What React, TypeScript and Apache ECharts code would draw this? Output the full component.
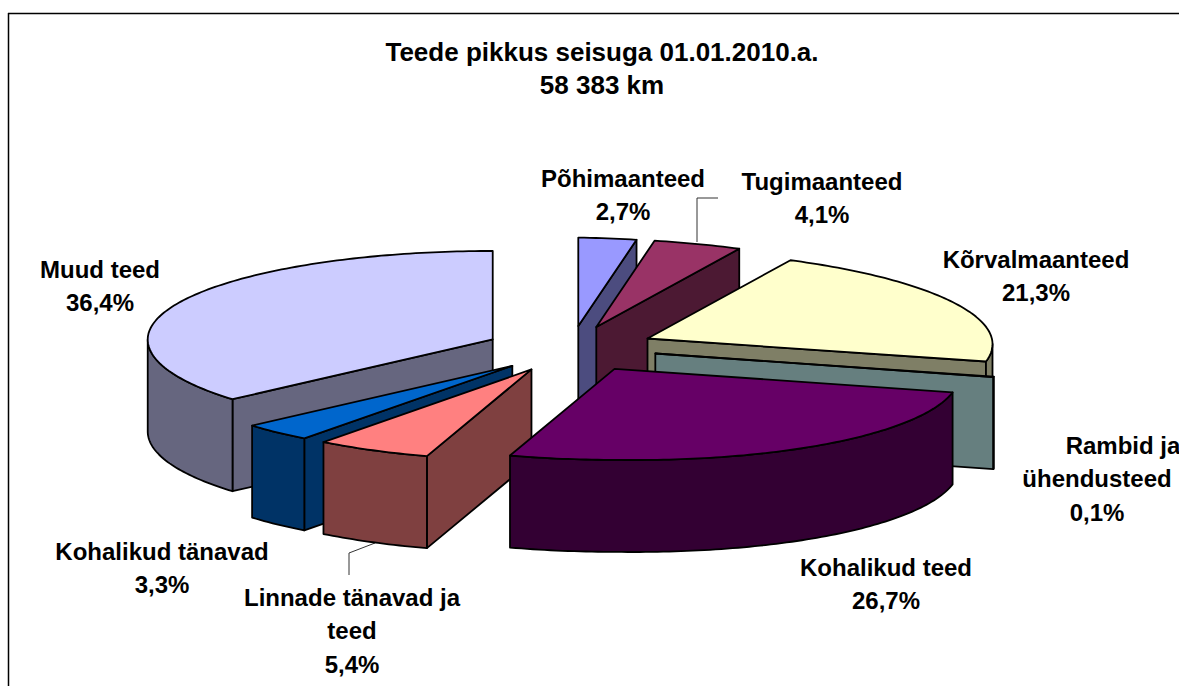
import React, { useEffect, useRef } from "react";
import * as echarts from "echarts";

const titleLines = ["Teede pikkus seisuga 01.01.2010.a.", "58 383 km"];
const sliceNames = [
  "Põhimaanteed",
  "Tugimaanteed",
  "Kõrvalmaanteed",
  "Rambid ja\nühendusteed",
  "Kohalikud teed",
  "Linnade tänavad ja\nteed",
  "Kohalikud tänavad",
  "Muud teed",
];
const sliceValues = [2.7, 4.1, 21.3, 0.1, 26.7, 5.4, 3.3, 36.4];
const topColors = ["#9999FF", "#993366", "#FFFFCC", "#CCFFFF", "#660066", "#FF8080", "#0066CC", "#CCCCFF"];
const sideColors = ["#4C4C7F", "#4C1933", "#7F7F66", "#667F7F", "#330033", "#7F4040", "#003366", "#66667F"];
const paintOrder = [0, 1, 2, 3, 7, 6, 5, 4];
const labelAnchors: [number, number][] = [
  [623, 178], [822, 181], [1036, 259], [1097, 445], [886, 567], [352, 597], [162, 551], [100, 269],
];
// per-line horizontal nudges, keyed "slice:line"
const lineNudges: Record<string, number> = { "3:0": 26 };

const FONT = '"Liberation Sans", Arial, sans-serif';
const FONT_SIZE = 24;
const TITLE_SIZE = 26;
const LINE_H = 33.5;
const CX = 571, CY = 349, RX = 345, RY_BACK = 88.5, RY_FRONT = 91, EX = 86, EY = 23, DEPTH = 92, TILT = 0.016;
const TOTAL = sliceValues.reduce((a, b) => a + b, 0);

function renderSlice(params: any) {
  const i = params.dataIndex;
  const before = sliceValues.slice(0, i).reduce((a, b) => a + b, 0);
  const a0 = (before / TOTAL) * 2 * Math.PI;
  const a1 = ((before + sliceValues[i]) / TOTAL) * 2 * Math.PI;
  const mid = (a0 + a1) / 2;
  const ax = CX + EX * Math.sin(mid);
  const ay = CY - EY * Math.cos(mid);
  const rim = (a: number): [number, number] => {
    const c = Math.cos(a);
    const dx = RX * Math.sin(a);
    return [ax + dx, ay - (c > 0 ? RY_BACK : RY_FRONT) * c + TILT * Math.max(0, dx)];
  };
  const arc = (from: number, to: number) => {
    const n = Math.max(2, Math.ceil(((to - from) * 180) / Math.PI));
    const pts: [number, number][] = [];
    for (let k = 0; k <= n; k++) pts.push(rim(from + ((to - from) * k) / n));
    return pts;
  };
  const base = paintOrder.indexOf(i) * 10;
  const line = { stroke: "#000", lineWidth: 1.8, lineJoin: "round" };
  const children: any[] = [];
  const radial = (a: number, z: number) => {
    const r = rim(a);
    children.push({
      type: "polygon",
      z2: base + z,
      shape: { points: [[ax, ay], r, [r[0], r[1] + DEPTH], [ax, ay + DEPTH]] },
      style: { fill: sideColors[i], ...line },
    });
  };
  // radial faces that turn towards the viewer
  if (Math.sin(a0) < -1e-6) radial(a0, 1);
  if (Math.sin(a1) > 1e-6) radial(a1, 1);
  // outer wall, front half only
  const f0 = Math.max(a0, Math.PI / 2);
  const f1 = Math.min(a1, (3 * Math.PI) / 2);
  if (f1 > f0) {
    const top = arc(f0, f1);
    const bottom = top.map(([x, y]) => [x, y + DEPTH]).reverse();
    children.push({
      type: "polygon",
      z2: base + 2,
      shape: { points: [...top, ...bottom] },
      style: { fill: sideColors[i], ...line },
    });
  }
  children.push({
    type: "polygon",
    z2: base + 3,
    shape: { points: [[ax, ay], ...arc(a0, a1)] },
    style: { fill: topColors[i], ...line },
  });
  return { type: "group", children };
}

const labelLines = (i: number) => [...sliceNames[i].split("\n"), `${sliceValues[i].toFixed(1).replace(".", ",")}%`];

export default function App() {
  const ref = useRef<HTMLDivElement>(null);
  useEffect(() => {
    const chart = echarts.init(ref.current!, null, { renderer: "svg" });
    chart.setOption({
      animation: false,
      backgroundColor: "#fff",
      title: {
        text: titleLines.join("\n"),
        left: 602,
        top: 35,
        textAlign: "center",
        padding: 0,
        textStyle: { fontFamily: FONT, fontSize: TITLE_SIZE, fontWeight: "bold", color: "#000", lineHeight: LINE_H },
      },
      series: [
        {
          type: "custom",
          coordinateSystem: "none",
          silent: true,
          data: sliceValues,
          renderItem: renderSlice,
        },
      ],
      graphic: [
        { type: "line", shape: { x1: 8.5, y1: 13, x2: 8.5, y2: 686 }, style: { stroke: "#000", lineWidth: 1.5 } },
        { type: "line", shape: { x1: 8, y1: 13.5, x2: 1179, y2: 13.5 }, style: { stroke: "#000", lineWidth: 1.5 } },
        { type: "polyline", shape: { points: [[697, 242], [697, 198], [718, 198]] }, style: { stroke: "#333", lineWidth: 1, fill: "none" } },
        { type: "polyline", shape: { points: [[375, 543], [349, 553], [349, 575]] }, style: { stroke: "#333", lineWidth: 1, fill: "none" } },
        ...sliceNames.flatMap((_, i) =>
          labelLines(i).map((text, k) => ({
            type: "text",
            x: labelAnchors[i][0] + (lineNudges[`${i}:${k}`] || 0),
            y: labelAnchors[i][1] + k * LINE_H,
            style: {
              text,
              fontFamily: FONT,
              fontSize: FONT_SIZE,
              fontWeight: "bold",
              fill: "#000",
              align: "center",
              verticalAlign: "middle",
            },
          })),
        ),
      ],
    });
    return () => chart.dispose();
  }, []);
  return <div ref={ref} style={{ position: "absolute", left: 0, top: 0, width: 1179, height: 686 }} />;
}
